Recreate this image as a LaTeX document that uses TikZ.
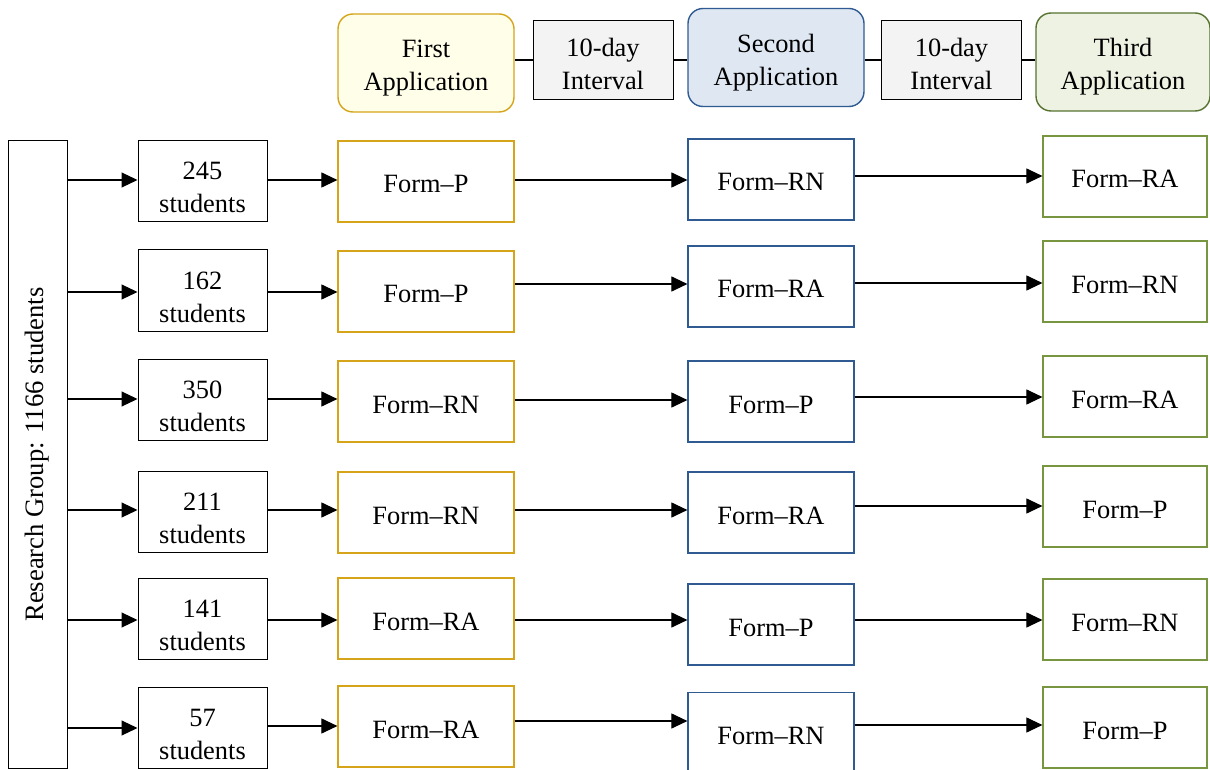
\documentclass[tikz,border=0pt]{standalone}
\usepackage{fontspec}
\setmainfont{Liberation Serif}
\usepackage{tikz}
\definecolor{firstline}{HTML}{D5A419}
\definecolor{firstfill}{HTML}{FFFEE9}
\definecolor{secondline}{HTML}{2F5A92}
\definecolor{secondfill}{HTML}{DFE7F2}
\definecolor{thirdline}{HTML}{56722F}
\definecolor{thirdbox}{HTML}{77963F}
\definecolor{thirdfill}{HTML}{EEF2E2}
\definecolor{intervalfill}{HTML}{F3F3F3}
\usetikzlibrary{arrows.meta}

\begin{document}
\begin{tikzpicture}[x=0.5pt, y=-0.5pt, font=\fontsize{13.2}{16.5}\selectfont,
	box/.style={draw, line width=0.5pt, align=center, inner sep=0pt, minimum height=40.5pt},
	apphead/.style={box, line width=0.7pt, rounded corners=7.5pt, minimum width=88pt, minimum height=49pt, text height=28pt, text depth=0pt},
	interval/.style={box, fill=intervalfill, minimum width=70pt, minimum height=39.5pt, text height=29pt, text depth=0pt},
	studbox/.style={box, minimum width=64.5pt, text height=31.5pt, text depth=0pt},
	form/.style={box, line width=0.6pt, text height=11.5pt, text depth=0pt},
	formone/.style={form, draw=firstline, minimum width=88pt},
	formtwo/.style={form, draw=secondline, minimum width=83pt},
	formthree/.style={form, draw=thirdbox, minimum width=82pt},
	arr/.style={line width=0.55pt, -{Triangle[length=8pt, width=7.5pt]}},
	link/.style={line width=0.55pt}]
			\useasboundingbox (0,0) rectangle (1210,770);
			
			% header
			\node[apphead, draw=firstline, fill=firstfill] (app1) at (426,63) {First\\Application};
			\node[interval] (int1) at (603,60.5) {10-day\\Interval};
			\node[apphead, draw=secondline, fill=secondfill] (app2) at (776,57.5) {Second\\Application};
			\node[interval] (int2) at (951.5,60.5) {10-day\\Interval};
			\node[apphead, draw=thirdline, fill=thirdfill, minimum width=87pt] (app3) at (1123,62) {Third\\Application};
			
			\draw[link] (app1.east |- 0,60) -- (int1.west |- 0,60);
			\draw[link] (int1.east |- 0,60) -- (app2.west |- 0,60);
			\draw[link] (app2.east |- 0,60) -- (int2.west |- 0,60);
			\draw[link] (int2.east |- 0,60) -- (app3.west |- 0,60);
			
			% research group
			\node[box, minimum width=29.5pt, minimum height=313.5pt] (grp) at (37.5,454.5) {};
			\node[rotate=90, font=\fontsize{13.3}{16}\selectfont] (grptext) at (grp.center) {Research Group: 1166 students};
			
			% students
			\node[studbox] (s1) at (202.5,181.5) {245\\students};
			\node[studbox] (s2) at (202.5,290.5) {162\\students};
			\node[studbox] (s3) at (202.5,399.5) {350\\students};
			\node[studbox] (s4) at (202.5,511.5) {211\\students};
			\node[studbox] (s5) at (202.5,618.5) {141\\students};
			\node[studbox] (s6) at (202.5,727.5) {57\\students};
			
			% first application
			\node[formone] (a1) at (426,181.5) {Form--P};
			\node[formone] (a2) at (426,291.5) {Form--P};
			\node[formone] (a3) at (426,401.5) {Form--RN};
			\node[formone] (a4) at (426,512.5) {Form--RN};
			\node[formone] (a5) at (426,618.5) {Form--RA};
			\node[formone] (a6) at (426,726.5) {Form--RA};
			
			% second application
			\node[formtwo] (b1) at (771,179.5) {Form--RN};
			\node[formtwo] (b2) at (771,286.5) {Form--RA};
			\node[formtwo] (b3) at (771,401.5) {Form--P};
			\node[formtwo] (b4) at (771,512.5) {Form--RA};
			\node[formtwo] (b5) at (771,624.5) {Form--P};
			\node[formtwo] (b6) at (771,733) {Form--RN};
			
			% third application
			\node[formthree] (c1) at (1125,176.5) {Form--RA};
			\node[formthree] (c2) at (1125,281.5) {Form--RN};
			\node[formthree] (c3) at (1125,396.5) {Form--RA};
			\node[formthree] (c4) at (1125,506.5) {Form--P};
			\node[formthree] (c5) at (1125,619.5) {Form--RN};
			\node[formthree] (c6) at (1125,727.5) {Form--P};
			
			\draw[arr] (grp.east |- 0,180) -- (s1.west |- 0,180);
			\draw[arr] (grp.east |- 0,292) -- (s2.west |- 0,292);
			\draw[arr] (grp.east |- 0,399) -- (s3.west |- 0,399);
			\draw[arr] (grp.east |- 0,510) -- (s4.west |- 0,510);
			\draw[arr] (grp.east |- 0,620) -- (s5.west |- 0,620);
			\draw[arr] (grp.east |- 0,728) -- (s6.west |- 0,728);
			
			\draw[arr] (s1.east |- 0,180) -- (a1.west |- 0,180);
			\draw[arr] (s2.east |- 0,292) -- (a2.west |- 0,292);
			\draw[arr] (s3.east |- 0,399) -- (a3.west |- 0,399);
			\draw[arr] (s4.east |- 0,510) -- (a4.west |- 0,510);
			\draw[arr] (s5.east |- 0,620) -- (a5.west |- 0,620);
			\draw[arr] (s6.east |- 0,726) -- (a6.west |- 0,726);
			
			\draw[arr] (a1.east |- 0,180) -- (b1.west |- 0,180);
			\draw[arr] (a2.east |- 0,284) -- (b2.west |- 0,284);
			\draw[arr] (a3.east |- 0,400) -- (b3.west |- 0,400);
			\draw[arr] (a4.east |- 0,510) -- (b4.west |- 0,510);
			\draw[arr] (a5.east |- 0,620) -- (b5.west |- 0,620);
			\draw[arr] (a6.east |- 0,721) -- (b6.west |- 0,721);
			
			\draw[arr] (b1.east |- 0,176) -- (c1.west |- 0,176);
			\draw[arr] (b2.east |- 0,283) -- (c2.west |- 0,283);
			\draw[arr] (b3.east |- 0,397) -- (c3.west |- 0,397);
			\draw[arr] (b4.east |- 0,506) -- (c4.west |- 0,506);
			\draw[arr] (b5.east |- 0,620) -- (c5.west |- 0,620);
			\draw[arr] (b6.east |- 0,725) -- (c6.west |- 0,725);
			
			\end{tikzpicture}
\end{document}
